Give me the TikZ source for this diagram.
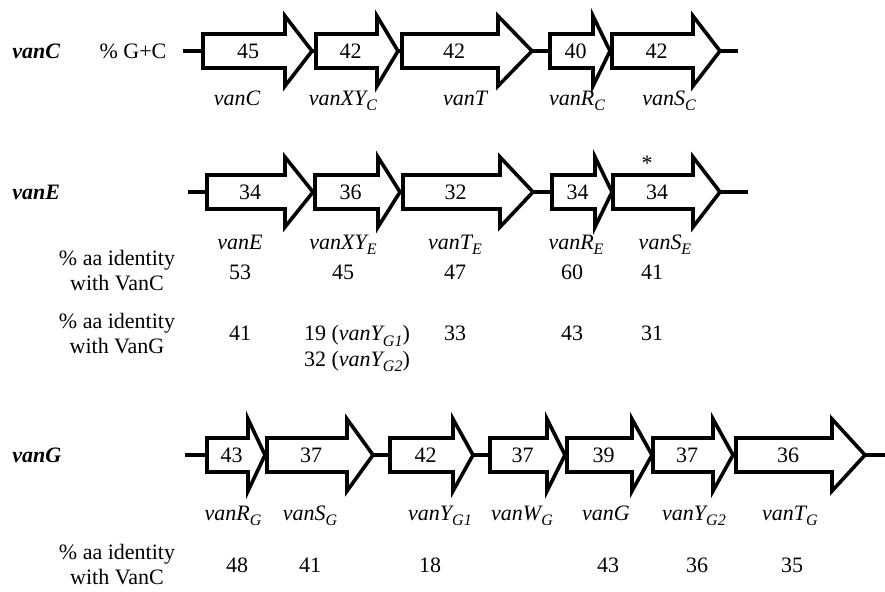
\documentclass[tikz,border=0pt]{standalone}
\usepackage{fontspec}
\setmainfont{Liberation Serif}
\usepackage{tikz}
\tikzstyle{backbone} = [draw=black, line width=1.8pt]
\tikzstyle{gene} = [draw=black, fill=white, line width=1.8pt, line join=miter]
\tikzstyle{gc} = [font=\fontsize{11}{13}\selectfont, anchor=base, inner sep=0pt]
\tikzstyle{genename} = [font=\fontsize{11}{13}\selectfont\itshape, anchor=base, inner sep=0pt]
\tikzstyle{rowname} = [font=\fontsize{11}{13}\selectfont\bfseries\itshape, anchor=base west, inner sep=0pt]
\tikzstyle{idlabel} = [font=\fontsize{11}{12.5}\selectfont, align=center, inner sep=0pt]
\newcommand{\gsub}[1]{\raisebox{-0.55ex}{\fontsize{8}{9}\selectfont #1}}

\begin{document}
\begin{tikzpicture}[x=0.5pt, y=-0.5pt]
\useasboundingbox (0,0) rectangle (885,591);

            % vanC cluster
            \node (rowC) [rowname] at (12,58.5) {vanC};
            \node (gcC) [gc] at (133,58.5) {\% G+C};
            \draw [backbone] (183,51) -- (738,51);
            \foreach \xs/\xh/\xt/\pc [count=\i] in {203/285/312/45, 316/377/398/42, 402/498/532/42, 550/593/610/40, 612/693/720/42}
            {
                \draw [gene] (\xs,34) -- (\xh,34) -- (\xh,16) -- (\xt,51) -- (\xh,86) -- (\xh,68) -- (\xs,68) -- cycle;
                \node (pcC\i) [gc] at ({(\xs+\xh)/2+4},58.5) {\pc};
            }
            \node (vanC) [genename] at (237,105) {vanC};
            \node (vanXYC) [genename] at (343,105) {vanXY\gsub{C}};
            \node (vanT) [genename] at (465,105) {vanT};
            \node (vanRC) [genename] at (577,105) {vanR\gsub{C}};
            \node (vanSC) [genename] at (669,105) {vanS\gsub{C}};

            % vanE cluster
            \node (rowE) [rowname] at (12,199.5) {vanE};
            \draw [backbone] (188,192) -- (748,192);
            \foreach \xs/\xh/\xt/\pc [count=\i] in {207/285/313/34, 315/378/400/36, 403/500/533/32, 552/595/612/34, 613/693/720/34}
            {
                \draw [gene] (\xs,175) -- (\xh,175) -- (\xh,157) -- (\xt,192) -- (\xh,227) -- (\xh,209) -- (\xs,209) -- cycle;
                \node (pcE\i) [gc] at ({(\xs+\xh)/2+4},199.5) {\pc};
            }
            \node (star) [gc] at (647,170) {*};
            \node (vanE) [genename] at (240,249) {vanE};
            \node (vanXYE) [genename] at (343,249) {vanXY\gsub{E}};
            \node (vanTE) [genename] at (455,249) {vanT\gsub{E}};
            \node (vanRE) [genename] at (576,249) {vanR\gsub{E}};
            \node (vanSE) [genename] at (665,249) {vanS\gsub{E}};

            % identity of vanE genes
            \node (idEC) [idlabel] at (117,271) {\% aa identity\\with VanC};
            \node (idEC1) [gc] at (240,279.5) {53};
            \node (idEC2) [gc] at (343,279.5) {45};
            \node (idEC3) [gc] at (455,279.5) {47};
            \node (idEC4) [gc] at (572,279.5) {60};
            \node (idEC5) [gc] at (652,279.5) {41};

            \node (idEG) [idlabel] at (117,334) {\% aa identity\\with VanG};
            \node (idEG1) [gc] at (240,340.5) {41};
            \node (idEG2) [gc] at (357,340.5) {19 (\textit{vanY\gsub{G1}})};
            \node (idEG2b) [gc] at (357,366) {32 (\textit{vanY\gsub{G2}})};
            \node (idEG3) [gc] at (455,340.5) {33};
            \node (idEG4) [gc] at (572,340.5) {43};
            \node (idEG5) [gc] at (652,340.5) {31};

            % vanG cluster
            \node (rowG) [rowname] at (12,462.5) {vanG};
            \draw [backbone] (185,455) -- (885,455);
            \foreach \xs/\xh/\xt/\pc [count=\i] in {207/248/265/43, 267/347/373/37, 390/453/473/42, 490/547/565/37, 567/632/652/39, 653/713/733/37, 736/832/865/36}
            {
                \draw [gene] (\xs,438) -- (\xh,438) -- (\xh,419) -- (\xt,455) -- (\xh,491) -- (\xh,472) -- (\xs,472) -- cycle;
                \node (pcG\i) [gc] at ({(\xs+\xh)/2+4},462.5) {\pc};
            }
            \node (vanRG) [genename] at (233,520) {vanR\gsub{G}};
            \node (vanSG) [genename] at (310,520) {vanS\gsub{G}};
            \node (vanYG1) [genename] at (440,520) {vanY\gsub{G1}};
            \node (vanWG) [genename] at (522,520) {vanW\gsub{G}};
            \node (vanG) [genename] at (606,520) {vanG};
            \node (vanYG2) [genename] at (694,520) {vanY\gsub{G2}};
            \node (vanTG) [genename] at (790,520) {vanT\gsub{G}};

            % identity of vanG genes
            \node (idGC) [idlabel] at (117,565) {\% aa identity\\with VanC};
            \node (idGC1) [gc] at (237,572) {48};
            \node (idGC2) [gc] at (310,572) {41};
            \node (idGC3) [gc] at (430,572) {18};
            \node (idGC4) [gc] at (608,572) {43};
            \node (idGC5) [gc] at (697,572) {36};
            \node (idGC6) [gc] at (792,572) {35};
\end{tikzpicture}
\end{document}
